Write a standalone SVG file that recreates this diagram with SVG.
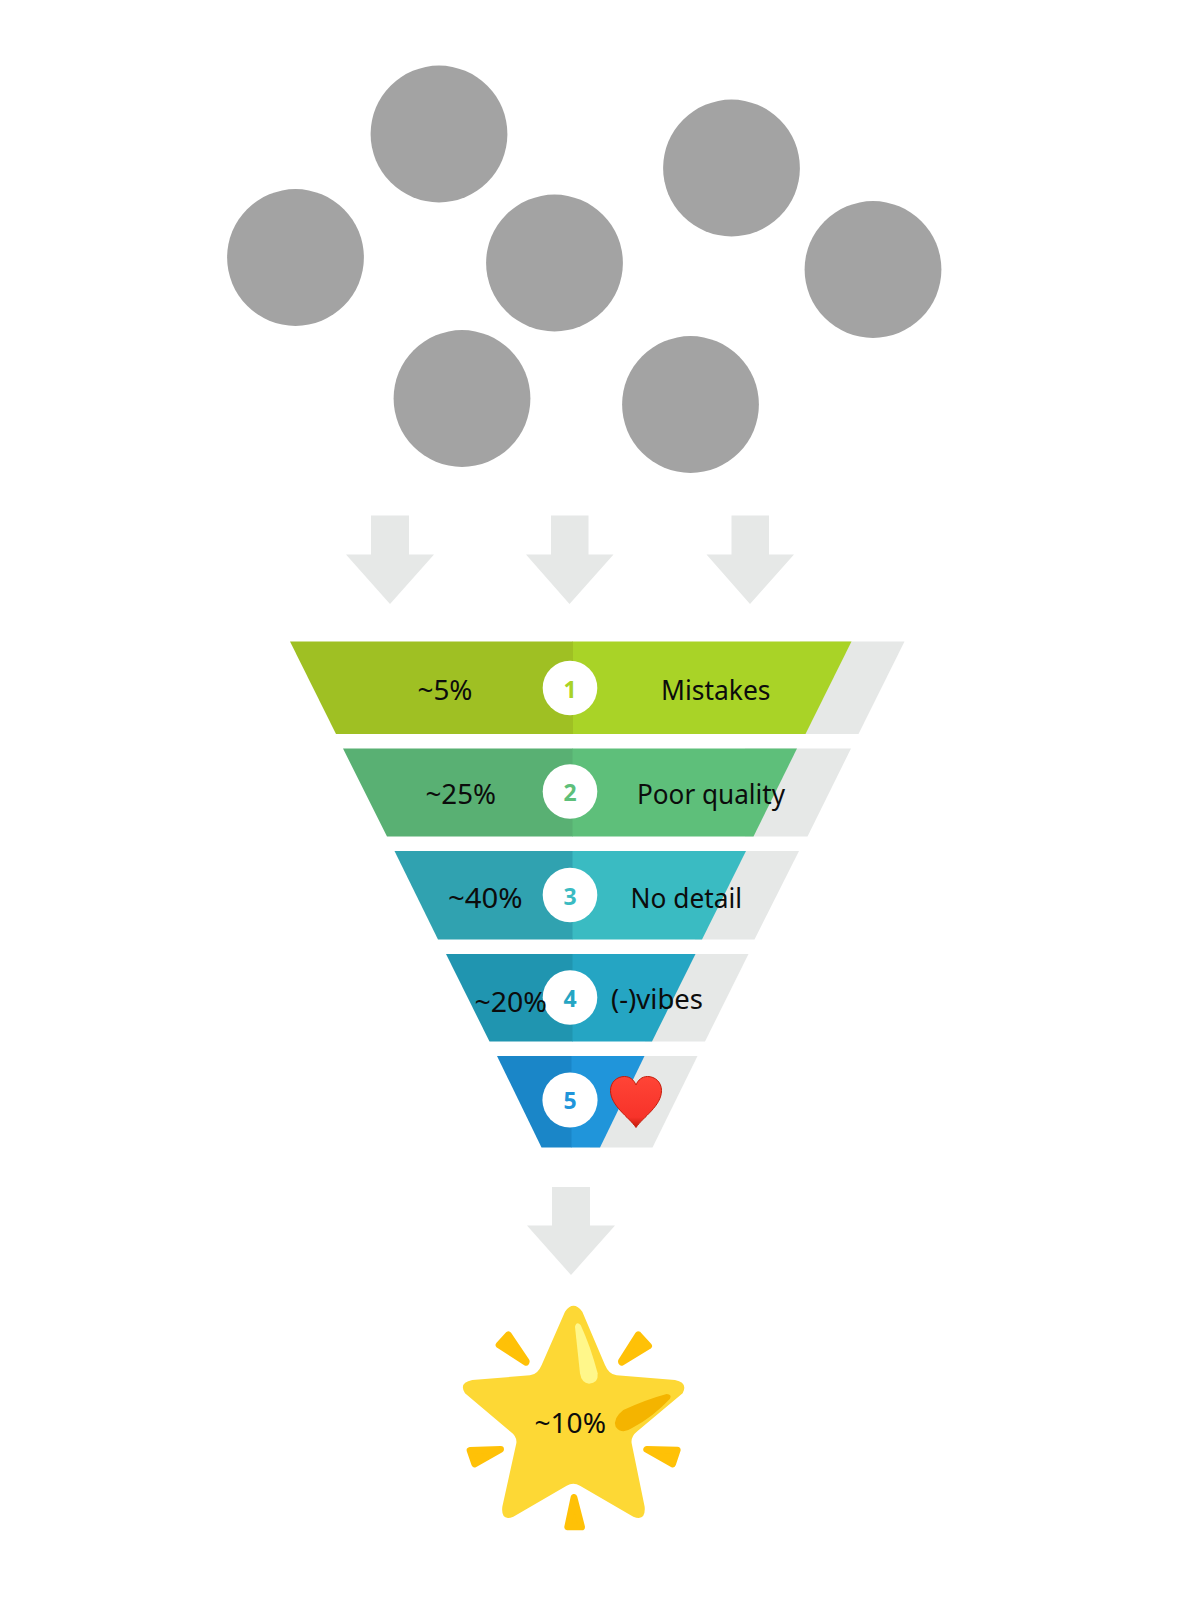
<svg xmlns="http://www.w3.org/2000/svg" width="1189" height="1600" viewBox="0 0 1189 1600">
<style>
text{font-family:"Noto Sans","Open Sans","Liberation Sans",sans-serif;font-size:28px;fill:#0c0c0c}
.n{font-weight:700;font-size:23px;text-anchor:middle}
.dot{fill:#a3a3a3}
.arrow{fill:#e6e8e7}
.shade{fill:#e6e8e7}
.disc{fill:#fff}
.spark{fill:#ffc107;stroke:#ffc107;stroke-width:20;stroke-linejoin:round}
</style>
<defs>
<linearGradient id="heartFill" x1="0" y1="0" x2="0" y2="1"><stop offset="0" stop-color="#ff4436"/><stop offset="0.8" stop-color="#f7332a"/><stop offset="1" stop-color="#c41a08"/></linearGradient>
</defs>
<rect width="1189" height="1600" fill="#fff"/>
<g id="dots">
<circle id="dot1" class="dot" cx="439" cy="134" r="68.4"/>
<circle id="dot2" class="dot" cx="295.5" cy="257.5" r="68.4"/>
<circle id="dot3" class="dot" cx="554.5" cy="263" r="68.4"/>
<circle id="dot4" class="dot" cx="731.5" cy="168" r="68.4"/>
<circle id="dot5" class="dot" cx="873" cy="269.5" r="68.4"/>
<circle id="dot6" class="dot" cx="462" cy="398.5" r="68.4"/>
<circle id="dot7" class="dot" cx="690.5" cy="404.5" r="68.4"/>
</g>
<g id="connectors">
<polygon class="arrow" points="371,515.5 409,515.5 409,554.5 434,554.5 390,604 346,554.5 371,554.5"/>
<polygon class="arrow" points="551,515.5 588.5,515.5 588.5,554.5 613.5,554.5 569.5,604 526,554.5 551,554.5"/>
<polygon class="arrow" points="731.5,515.5 769,515.5 769,554.5 794,554.5 750,604 706.5,554.5 731.5,554.5"/>
<polygon class="arrow" points="552,1187 590,1187 590,1225.5 615,1225.5 571,1275 527,1225.5 552,1225.5"/>
</g>
<g id="band1">
<polygon class="shade" points="800,641.5 904.5,641.5 858.5,734 800,734"/>
<polygon fill="#a9d327" points="572.5,641.5 851.5,641.5 805.5,734 572.5,734"/>
<polygon fill="#9fc023" points="290,641.5 573,641.5 573,734 336,734"/>
<circle class="disc" cx="570" cy="688" r="27.3"/>
<text class="n" x="570" y="697.5" style="fill:#a9d327">1</text>
<text x="417.5" y="699.5" textLength="55" lengthAdjust="spacingAndGlyphs">~5%</text>
<text x="661" y="699.5" textLength="109.5" lengthAdjust="spacingAndGlyphs">Mistakes</text>
</g>
<g id="band2">
<polygon class="shade" points="745,748.5 851,748.5 807.5,836.5 745,836.5"/>
<polygon fill="#5ebf7a" points="572,748.5 797,748.5 753.5,836.5 572,836.5"/>
<polygon fill="#59b073" points="343,748.5 572.5,748.5 572.5,836.5 387,836.5"/>
<circle class="disc" cx="570" cy="791.5" r="27.3"/>
<text class="n" x="570" y="801" style="fill:#5ebf7a">2</text>
<text x="425.5" y="804" textLength="70.5" lengthAdjust="spacingAndGlyphs">~25%</text>
<text x="637" y="804" textLength="148" lengthAdjust="spacingAndGlyphs">Poor quality</text>
</g>
<g id="band3">
<polygon class="shade" points="695,851 799,851 754.5,939.5 695,939.5"/>
<polygon fill="#3abbc2" points="572,851 746,851 702,939.5 572,939.5"/>
<polygon fill="#30a2b0" points="394.5,851 572.5,851 572.5,939.5 438,939.5"/>
<circle class="disc" cx="570" cy="895" r="27.3"/>
<text class="n" x="570" y="904.5" style="fill:#3abbc2">3</text>
<text x="448" y="908" textLength="74.5" lengthAdjust="spacingAndGlyphs">~40%</text>
<text x="630.5" y="908" textLength="111.5" lengthAdjust="spacingAndGlyphs">No detail</text>
</g>
<g id="band4">
<polygon class="shade" points="645,954 748.5,954 705,1041.5 645,1041.5"/>
<polygon fill="#25a5c3" points="572,954 695.5,954 652,1041.5 572,1041.5"/>
<polygon fill="#2095b0" points="446,954 572.5,954 572.5,1041.5 489.5,1041.5"/>
<circle class="disc" cx="570" cy="997.5" r="27.3"/>
<text class="n" x="570" y="1007" style="fill:#25a5c3">4</text>
<text x="474.5" y="1011.5" textLength="72.5" lengthAdjust="spacingAndGlyphs">~20%</text>
<text x="611" y="1008.5" textLength="92" lengthAdjust="spacingAndGlyphs">(-)vibes</text>
</g>
<g id="band5">
<polygon class="shade" points="590,1056 697.5,1056 652.5,1147.5 590,1147.5"/>
<polygon fill="#2095da" points="571,1056 644.5,1056 600,1147.5 571,1147.5"/>
<polygon fill="#1a86c8" points="497,1056 571.5,1056 571.5,1147.5 541.5,1147.5"/>
<circle class="disc" cx="570" cy="1100" r="27.6"/>
<text class="n" x="570" y="1109" style="fill:#2095da">5</text>
<path id="heart" d="M636,1127.5 C 629,1117 610.5,1106 610.5,1090.5 C 610.5,1082 617,1076.5 624.5,1076.5 C 630,1076.5 634,1080 636,1085 C 638,1080 642,1076.5 647.5,1076.5 C 655,1076.5 661.5,1082 661.5,1090.5 C 661.5,1106 643,1117 636,1127.5 Z" fill="url(#heartFill)" stroke="#c41a08" stroke-width="1"/>
</g>
<g id="star">
<g transform="translate(440 1290) scale(0.3333)">
<polygon class="spark" points="205,134 177,165 258,217 259,214"/>
<polygon class="spark" points="595,134 626,168 545,217 544,214"/>
<polygon class="spark" points="90,481 182,478 182,478 104,522"/>
<polygon class="spark" points="620,478 712,480 698,522 620,478"/>
<polygon class="spark" points="402,622 383,711 425,711"/>
<path fill="#fdd835" d="M375,65 Q400,30 427,65 L495,225 Q507,254 530,256 L705,270 Q745,278 728,310 L592,424 Q572,440 575,460 L614,650 Q618,695 580,680 L420,587 Q400,575 380,587 L220,680 Q182,695 187,650 L229,460 Q232,440 210,424 L75,310 Q55,278 97,270 L270,256 Q293,254 305,225 Z"/>
<path fill="#fff78a" d="M405,110 Q410,92 422,105 Q452,170 473,250 Q476,280 447,281 Q425,280 420,250 Z"/>
<path fill="#f4b400" d="M680,312 Q697,314 690,326 Q640,380 575,415 Q545,435 527,410 Q518,385 550,360 Q620,328 680,312 Z"/>
</g>
<text x="534.5" y="1433" textLength="71.5" lengthAdjust="spacingAndGlyphs">~10%</text>
</g>
</svg>
